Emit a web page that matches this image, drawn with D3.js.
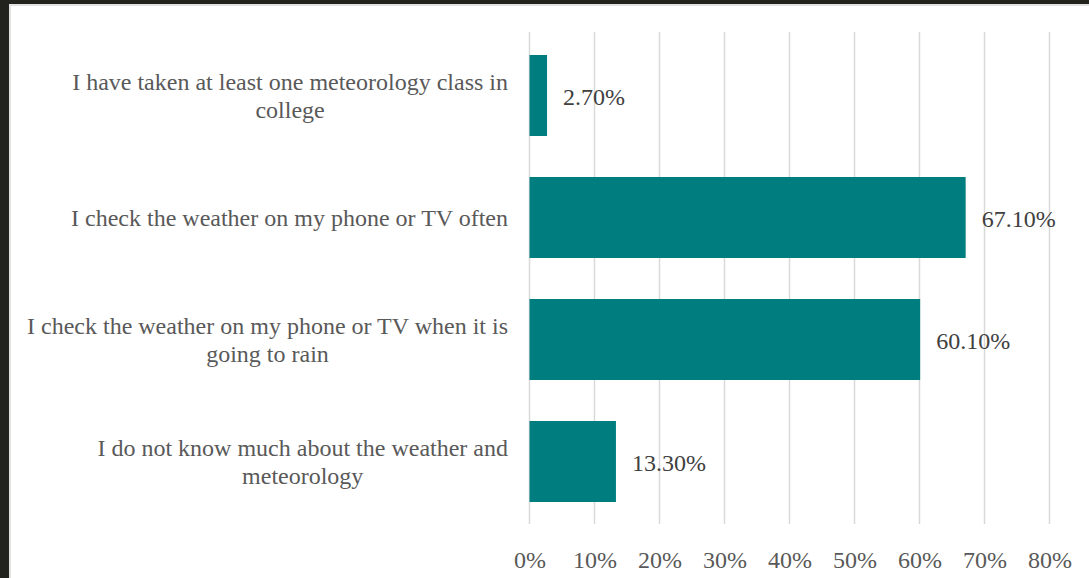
<!DOCTYPE html>
<html>
<head>
<meta charset="utf-8">
<script src="https://cdn.jsdelivr.net/npm/d3@7"></script>
<style>
  html, body { margin: 0; padding: 0; background: #ffffff; }
  svg { display: block; }
  text { font-family: "Liberation Serif", "Times New Roman", serif; }
</style>
</head>
<body>
<svg id="chart" width="1089" height="578"></svg>
<script>
// Survey statements (each entry is a list of wrapped lines) and shares
const categories = [
  ["I have taken at least one meteorology class in", "college"],
  ["I check the weather on my phone or TV often"],
  ["I check the weather on my phone or TV when it is", "going to rain"],
  ["I do not know much about the weather and", "meteorology"]
];
const values = [0.027, 0.671, 0.601, 0.133];
const valueLabels = ["2.70%", "67.10%", "60.10%", "13.30%"];
const tickValues = [0, 0.1, 0.2, 0.3, 0.4, 0.5, 0.6, 0.7, 0.8];

const svg = d3.select("#chart");
const W = 1089, H = 578;

// frame edges
svg.append("rect").attr("x", 0).attr("y", 0).attr("width", W).attr("height", H).attr("fill", "#ffffff");
svg.append("rect").attr("x", 0).attr("y", 0).attr("width", W).attr("height", 4).attr("fill", "#23231e");
svg.append("rect").attr("x", 0).attr("y", 0).attr("width", 9).attr("height", H).attr("fill", "#23231e");
svg.append("rect").attr("x", 9).attr("y", 4).attr("width", W - 9).attr("height", 2).attr("fill", "#e2e2e2");
svg.append("rect").attr("x", 9).attr("y", 4).attr("width", 2).attr("height", H - 4).attr("fill", "#e2e2e2");

const x = d3.scaleLinear().domain([0, 0.8]).range([529.5, 1049.5]);
const keys = categories.map((c, i) => i);
const y = d3.scaleBand().domain(keys).range([34.5, 522.5]).paddingInner(0.336).paddingOuter(0.168);

const gridTop = 32, gridBottom = 524;

// vertical gridlines
svg.append("g").selectAll("line").data(tickValues).join("line")
  .attr("x1", d => x(d)).attr("x2", d => x(d))
  .attr("y1", gridTop).attr("y2", gridBottom)
  .attr("stroke", "#d9d9d9").attr("stroke-width", 1.5);

// bars
svg.append("g").selectAll("rect").data(values).join("rect")
  .attr("x", x(0))
  .attr("y", (d, i) => y(i))
  .attr("width", d => x(d) - x(0))
  .attr("height", y.bandwidth())
  .attr("fill", "#007d7e");

// value labels
svg.append("g").selectAll("text").data(values).join("text")
  .attr("x", d => x(d) + 16)
  .attr("y", (d, i) => y(i) + y.bandwidth() / 2 + 1)
  .attr("dy", "0.35em")
  .attr("font-size", 24)
  .attr("fill", "#404040")
  .text((d, i) => valueLabels[i]);

// x axis tick labels
const xAxis = d3.axisBottom(x).tickValues(tickValues).tickFormat(d3.format(".0%")).tickSize(0).tickPadding(0);
const gx = svg.append("g").attr("transform", `translate(0, 560)`).call(xAxis);
gx.select(".domain").remove();
gx.selectAll("text")
  .attr("y", 0).attr("dy", "0.35em")
  .attr("font-size", 24)
  .attr("font-family", "'Liberation Serif', 'Times New Roman', serif")
  .attr("fill", "#595959");

// category labels: lines centred on each other, block right-aligned
const labelRight = 508, lineH = 28;
const lg = svg.append("g");
categories.forEach((lines, i) => {
  const cy = y(i) + y.bandwidth() / 2;
  const t = lg.append("text").attr("font-size", 24).attr("fill", "#595959").attr("text-anchor", "middle");
  const spans = lines.map((ln, j) => t.append("tspan")
    .attr("y", cy + (j - (lines.length - 1) / 2) * lineH)
    .attr("dy", "0.35em")
    .text(ln));
  const widest = d3.max(spans, s => s.node().getComputedTextLength());
  spans.forEach(s => s.attr("x", labelRight - widest / 2));
});
</script>
</body>
</html>
